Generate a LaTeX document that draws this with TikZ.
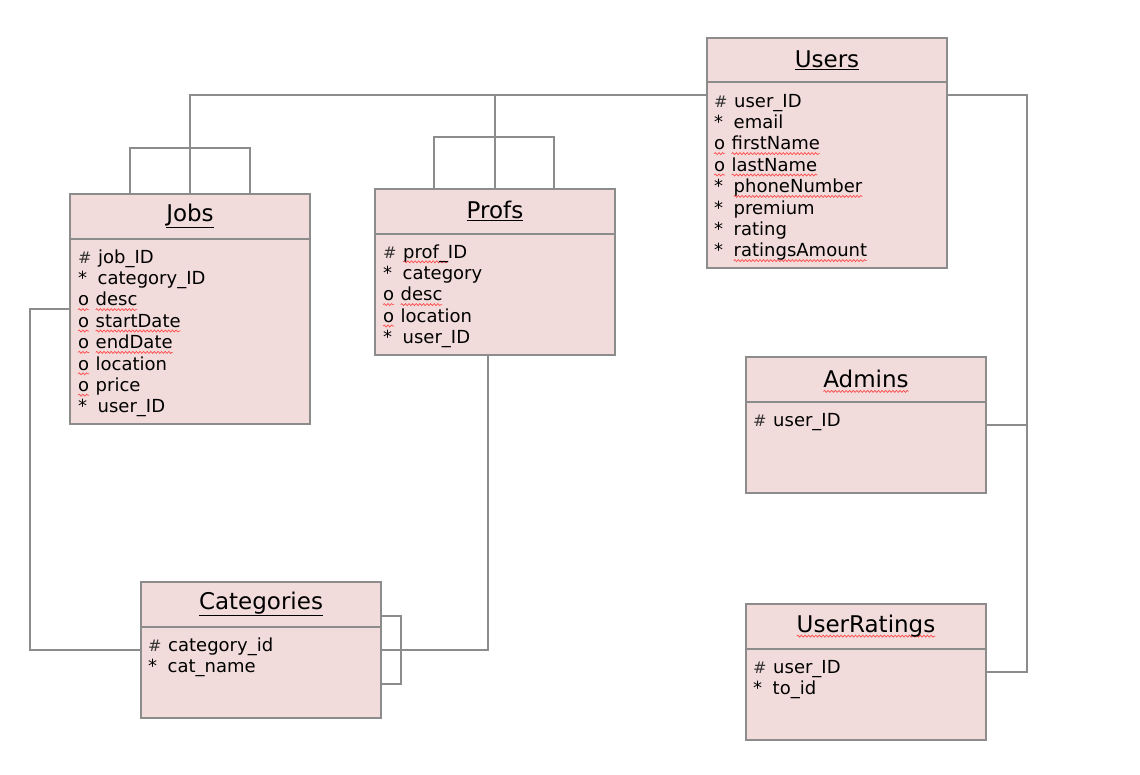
\documentclass[tikz,border=0pt]{standalone}
\usepackage{fontspec}
\setmainfont{DejaVu Sans}
\usetikzlibrary{decorations.pathmorphing}
\definecolor{boxfill}{HTML}{F2DCDB}
\definecolor{boxline}{HTML}{8C8C8C}
\definecolor{wavyred}{HTML}{FF4A4A}
\definecolor{hashgray}{HTML}{333333}
\newsavebox\wbox
\newcommand\sq[1]{\sbox\wbox{#1}\tikz[overlay,baseline=0pt,x=1pt,y=1pt]{\draw[wavyred,line width=0.7pt,decorate,decoration={snake,amplitude=1pt,segment length=3.6pt}] (0,-3.8) -- (\the\wd\wbox,-3.8);}\usebox\wbox}
\newcommand\sym[1]{\makebox[19.5pt][l]{#1}}
\newcommand\symo{\makebox[17.5pt][l]{\sq{o}}}
\newcommand\hsh{\makebox[20pt][l]{\textcolor{hashgray}{\fontsize{16}{20}\selectfont\#}}}
\tikzset{
  tbl/.style={draw=boxline, fill=boxfill, line width=1.6pt, anchor=north west, inner sep=0pt, outer sep=0pt},
  divider/.style={draw=boxline, line width=1.6pt},
  conn/.style={draw=boxline, line width=1.8pt},
  ttl/.style={font=\fontsize{23}{27}\selectfont, text=black, inner sep=0pt},
  rowtxt/.style={font=\fontsize{18}{21}\selectfont, text=black, anchor=base west, inner sep=0pt},
}
\begin{document}
\begin{tikzpicture}[x=1pt,y=-1pt]
\useasboundingbox[fill=white] (0,0) rectangle (1140,774);

% ---------- tables ----------
\node[tbl, minimum width=240pt, minimum height=230pt] (users) at (707,38) {};
\node[tbl, minimum width=240pt, minimum height=230pt] (jobs) at (70,194) {};
\node[tbl, minimum width=240pt, minimum height=166pt] (profs) at (375,189) {};
\node[tbl, minimum width=240pt, minimum height=136pt] (cats) at (141,582) {};
\node[tbl, minimum width=240pt, minimum height=136pt] (admins) at (746,357) {};
\node[tbl, minimum width=240pt, minimum height=136pt] (ratings) at (746,604) {};

% dividers
\draw[divider] (users.west |- 0,82) -- (users.east |- 0,82);
\draw[divider] (jobs.west |- 0,239) -- (jobs.east |- 0,239);
\draw[divider] (profs.west |- 0,234) -- (profs.east |- 0,234);
\draw[divider] (cats.west |- 0,627) -- (cats.east |- 0,627);
\draw[divider] (admins.west |- 0,402) -- (admins.east |- 0,402);
\draw[divider] (ratings.west |- 0,649) -- (ratings.east |- 0,649);

% titles
\node[ttl] (usersT) at (827,60) {\underline{Users}};
\node[ttl] (jobsT) at (190,216) {\underline{Jobs}};
\node[ttl] (profsT) at (495,211) {\underline{Profs}};
\node[ttl] (catsT) at (261,604) {\underline{Categories}};
\node[ttl] (adminsT) at (866,379) {\sq{Admins}};
\node[ttl] (ratingsT) at (866,626) {\sq{UserRatings}};

% rows
\foreach \t [count=\i] in {\hsh user\_ID, \sym{*}email, \symo\sq{firstName}, \symo\sq{lastName}, \sym{*}\sq{phoneNumber}, \sym{*}premium, \sym{*}rating, \sym{*}\sq{ratingsAmount}}
  \node[rowtxt] (users-\i) at (714,{107+21.4*(\i-1)}) {\t};
\foreach \t [count=\i] in {\hsh job\_ID, \sym{*}category\_ID, \symo\sq{desc}, \symo\sq{startDate}, \symo\sq{endDate}, \symo location, \symo price, \sym{*}user\_ID}
  \node[rowtxt] (jobs-\i) at (78,{263+21.4*(\i-1)}) {\t};
\foreach \t [count=\i] in {\hsh\sq{prof\_}ID, \sym{*}category, \symo\sq{desc}, \symo location, \sym{*}user\_ID}
  \node[rowtxt] (profs-\i) at (383,{258+21.4*(\i-1)}) {\t};
\foreach \t [count=\i] in {\hsh category\_id, \sym{*}cat\_name}
  \node[rowtxt] (cats-\i) at (148,{651+21.4*(\i-1)}) {\t};
\node[rowtxt] (admins-1) at (753,426) {\hsh user\_ID};
\foreach \t [count=\i] in {\hsh user\_ID, \sym{*}to\_id}
  \node[rowtxt] (ratings-\i) at (753,{673+21.4*(\i-1)}) {\t};

% ---------- connectors ----------
\draw[conn] (users.west |- 0,95) -- (190,95) -- (jobs.north);
\draw[conn] (profs.north |- 0,95) -- (profs.north);
\draw[conn] (jobs.north west) ++(60,0) -- ++(0,-46) -- ++(120,0) -- ++(0,46);
\draw[conn] (profs.north west) ++(59,0) -- ++(0,-52) -- ++(120,0) -- ++(0,52);
\draw[conn] (users.east |- 0,95) -- (1027,95) |- (ratings.east);
\draw[conn] (admins.east) -- (admins.east -| 1027,0);
\draw[conn] (jobs.west |- 0,309) -- (30,309) |- (cats.west);
\draw[conn] (cats.east) -| ([xshift=-7pt]profs.south);
\draw[conn] (cats.east) ++(0,-34) -- ++(20,0) -- ++(0,68) -- ++(-20,0);
\end{tikzpicture}
\end{document}
